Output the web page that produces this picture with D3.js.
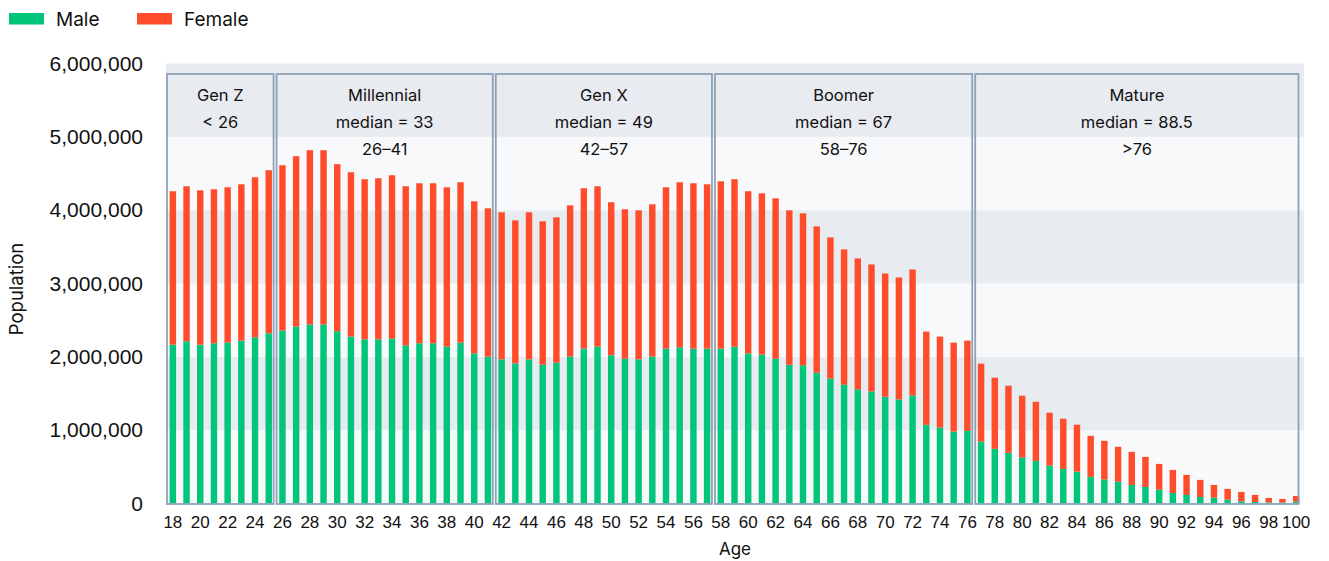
<!DOCTYPE html>
<html>
<head>
<meta charset="utf-8">
<script src="https://cdn.jsdelivr.net/npm/d3@7"></script>
<style>
  html, body { margin: 0; padding: 0; background: #ffffff; }
  svg { display: block; font-family: Inter, "Liberation Sans", Arial, sans-serif; }
</style>
</head>
<body>
<svg id="chart" width="1329" height="561"></svg>
<script>
// ---- data (population, thousands) ----
const ages = d3.range(18, 101);
const maleK = [
  2166, 2212, 2166, 2185, 2194, 2221, 2266, 2321,
  2358, 2413, 2440, 2440, 2349, 2276, 2239, 2239, 2248, 2157, 2185, 2185, 2139, 2194, 2048, 2003,
  1966, 1911, 1966, 1893, 1921, 2003, 2112, 2139, 2021, 1975, 1966, 2003, 2112, 2130, 2112, 2112,
  2112, 2139, 2048, 2030, 1975, 1893, 1884, 1784, 1702, 1620, 1556, 1528, 1456, 1419, 1474, 1073, 1036, 982, 991,
  845, 745, 691, 627, 581, 517, 472, 435, 363, 326, 299, 253, 226, 189, 144, 117, 89, 80, 52, 30, 21, 15, 14, 24
];
const femaleK = [
  2092, 2114, 2105, 2100, 2118, 2132, 2183, 2224,
  2255, 2323, 2378, 2378, 2278, 2241, 2183, 2196, 2228, 2169, 2182, 2182, 2173, 2187, 2073, 2022,
  2005, 1950, 2005, 1955, 1981, 2063, 2187, 2187, 2087, 2037, 2032, 2077, 2200, 2251, 2255, 2241,
  2282, 2283, 2210, 2200, 2187, 2105, 2073, 1995, 1927, 1845, 1786, 1732, 1681, 1663, 1717, 1271, 1240, 1212, 1230,
  1062, 971, 915, 843, 807, 721, 684, 639, 560, 529, 474, 451, 410, 351, 314, 273, 233, 173, 147, 128, 96, 61, 48, 79
];
const seriesNames = ["Male", "Female"];
const seriesColors = ["#00c57a", "#ff4d2b"];

const genNames = ["Gen Z", "Millennial", "Gen X", "Boomer", "Mature"];
const genStart = [18, 26, 42, 58, 77];
const genEnd = [25, 41, 57, 76, 100];
const genLine2 = ["< 26", "median = 33", "median = 49", "median = 67", "median = 88.5"];
const genLine3 = ["", "26\u201341", "42\u201357", "58\u201376", ">76"];

const yTicks = [0, 1000000, 2000000, 3000000, 4000000, 5000000, 6000000];
const xTickAges = ages.filter(a => a % 2 === 0);

// ---- layout ----
const svg = d3.select("#chart");
const plotL = 166, plotR = 1304, plotT = 63.5, plotB = 503.5;

const x = d3.scaleBand().domain(ages).range([plotL, plotR - 1]).paddingInner(0.53).paddingOuter(0.265);
const y = d3.scaleLinear().domain([0, 6000000]).range([plotB, plotT]);

// background bands
const bandData = d3.range(0, 6).map(i => [i * 1000000, (i + 1) * 1000000]);
svg.append("g").selectAll("rect").data(bandData).join("rect")
  .attr("x", plotL).attr("width", plotR - plotL)
  .attr("y", d => y(d[1])).attr("height", d => y(d[0]) - y(d[1]))
  .attr("fill", (d, i) => i % 2 === 0 ? "#f8f9fb" : "#e8ebf0");

// stacked bars
const rows = ages.map((a, i) => ({ age: a, Male: maleK[i] * 1000, Female: femaleK[i] * 1000 }));
const stacked = d3.stack().keys(seriesNames)(rows);
svg.append("g").selectAll("g").data(stacked).join("g")
  .attr("fill", (d, i) => seriesColors[i])
  .selectAll("rect").data(d => d).join("rect")
  .attr("x", d => x(d.data.age))
  .attr("width", x.bandwidth())
  .attr("y", d => y(d[1]))
  .attr("height", d => y(d[0]) - y(d[1]));

// generation boxes
const step = x.step();
const pad = (step - x.bandwidth()) / 2;
const gens = genNames.map((n, i) => ({
  name: n, l2: genLine2[i], l3: genLine3[i],
  x0: x(genStart[i]) - pad + 1,
  x1: Math.min(x(genEnd[i]) + x.bandwidth() + pad - 2, 1298.5)
}));
const gG = svg.append("g");
gG.selectAll("rect").data(gens).join("rect")
  .attr("x", d => d.x0).attr("y", 74)
  .attr("width", d => d.x1 - d.x0).attr("height", plotB + 0.5 - 74)
  .attr("fill", "none").attr("stroke", "#8ea2b7").attr("stroke-width", 1.8);
const gT = gG.selectAll("text.gl").data(gens).join("text").attr("class", "gl")
  .attr("x", d => (d.x0 + d.x1) / 2).attr("text-anchor", "middle")
  .attr("font-size", 16.5).attr("fill", "#111");
gT.append("tspan").attr("x", d => (d.x0 + d.x1) / 2).attr("y", 101).text(d => d.name);
gT.append("tspan").attr("x", d => (d.x0 + d.x1) / 2).attr("y", 128).text(d => d.l2);
gT.append("tspan").attr("x", d => (d.x0 + d.x1) / 2).attr("y", 155).text(d => d.l3);

// axes
const yAxis = svg.append("g").attr("transform", `translate(${plotL - 23},0)`)
  .call(d3.axisLeft(y).tickValues(yTicks).tickSize(0).tickPadding(0).tickFormat(d3.format(",")));
yAxis.select(".domain").remove();
yAxis.selectAll("text").attr("font-size", 21).attr("fill", "#111").attr("font-family", null);

const xAxis = svg.append("g").attr("transform", `translate(0,${plotB + 12})`)
  .call(d3.axisBottom(x).tickValues(xTickAges).tickSize(0).tickPadding(0));
xAxis.select(".domain").remove();
xAxis.selectAll("text").attr("font-size", 17).attr("fill", "#111").attr("font-family", null);

svg.append("text").attr("x", (plotL + plotR) / 2).attr("y", 555).attr("text-anchor", "middle")
  .attr("font-size", 17).attr("fill", "#111").text("Age");
svg.append("text").attr("transform", "translate(23,289) rotate(-90)").attr("text-anchor", "middle")
  .attr("font-size", 18.5).attr("fill", "#111").text("Population");

// legend
const legX = [9, 137];
const lg = svg.append("g").selectAll("g").data(seriesNames).join("g")
  .attr("transform", (d, i) => `translate(${legX[i]},0)`);
lg.append("rect").attr("x", 0).attr("y", 13).attr("width", 35).attr("height", 11.5)
  .attr("fill", (d, i) => seriesColors[i]);
lg.append("text").attr("x", 47).attr("y", 26).attr("font-size", 19).attr("fill", "#111").text(d => d);
</script>
</body>
</html>
